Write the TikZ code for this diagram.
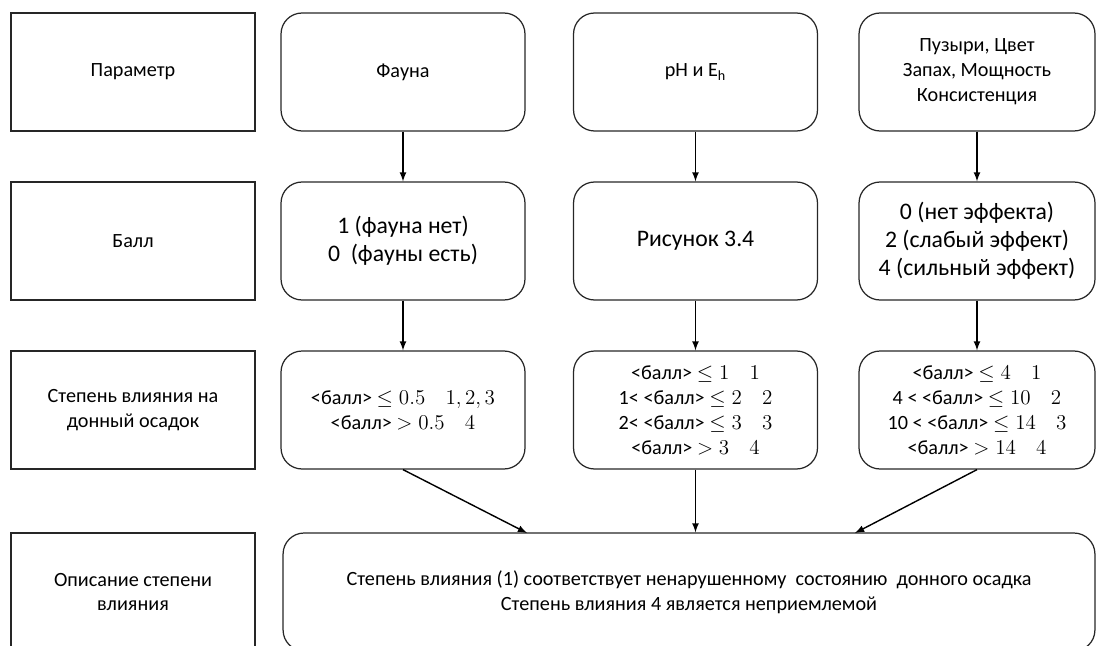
\documentclass[tikz,border=0pt]{standalone}
\usepackage{fontspec}
\setmainfont{Carlito}
\usepackage{tikz}
\usetikzlibrary{arrows}

\begin{document}
\begin{tikzpicture}[x=0.02cm,y=-0.02cm,
  lbox/.style={draw=black!85,line width=0.7pt,inner sep=0pt,minimum width=4.88cm,minimum height=2.36cm,align=center,font=\fontsize{11.5}{14.2}\selectfont},
  rbox/.style={lbox,rounded corners=0.42cm},
  big/.style={font=\fontsize{13.5}{15.8}\selectfont},
  arr/.style={-latex,line width=0.8pt}]
\useasboundingbox (0,0) rectangle (1097,645);
% left column
\node[lbox] (par) at (133,72) {Параметр};
\node[lbox] (bal) at (133,241) {Балл};
\node[lbox] (stp) at (133,410) {Степень влияния на\\донный осадок};
\node[lbox] (opi) at (133,592) {Описание степени\\влияния};
% fauna
\node[rbox] (fa1) at (403,72) {Фауна};
\node[rbox,big] (fa2) at (403,241) {1 (фауна нет)\\0\ \ (фауны есть)};
\node[rbox] (fa3) at (403,410) {<балл> $\leq 0.5$\quad $1, 2, 3$\\<балл> $> 0.5$\quad $4$};
% pH and Eh
\node[rbox] (ph1) at (695.5,72) {pH и E\textsubscript{h}};
\node[rbox,big] (ph2) at (695.5,241) {Рисунок 3.4};
\node[rbox] (ph3) at (695.5,410) {<балл> $\leq 1$\quad $1$\\1< <балл> $\leq 2$\quad $2$\\2< <балл> $\leq 3$\quad $3$\\<балл> $> 3$\quad $4$};
% other parameters
\node[rbox,minimum width=4.72cm] (ot1) at (977,72) {Пузыри, Цвет\\Запах, Мощность\\Консистенция};
\node[rbox,big,minimum width=4.72cm] (ot2) at (977,241) {0 (нет эффекта)\\2 (слабый эффект)\\4 (сильный эффект)};
\node[rbox,minimum width=4.72cm] (ot3) at (977,410) {<балл> $\leq 4$\quad $1$\\4 < <балл> $\leq 10$\quad $2$\\10 < <балл> $\leq 14$\quad $3$\\<балл> $> 14$\quad $4$};
% description
\node[rbox,minimum width=16.24cm] (des) at (689,592) {Степень влияния (1) соответствует ненарушенному\ \ состоянию\ \ донного осадка\\Степень влияния 4 является неприемлемой};
\coordinate (d1) at (527,533);
\coordinate (d3) at (855,533);
% arrows
\draw[arr] (fa1) -- (fa2);
\draw[arr] (fa2) -- (fa3);
\draw[arr] (ph1) -- (ph2);
\draw[arr] (ph2) -- (ph3);
\draw[arr] (ot1) -- (ot2);
\draw[arr] (ot2) -- (ot3);
\draw[arr] (fa3.south) -- (d1);
\draw[arr] (ph3.south) -- (ph3.south |- des.north);
\draw[arr] (ot3.south) -- (d3);
\end{tikzpicture}
\end{document}
